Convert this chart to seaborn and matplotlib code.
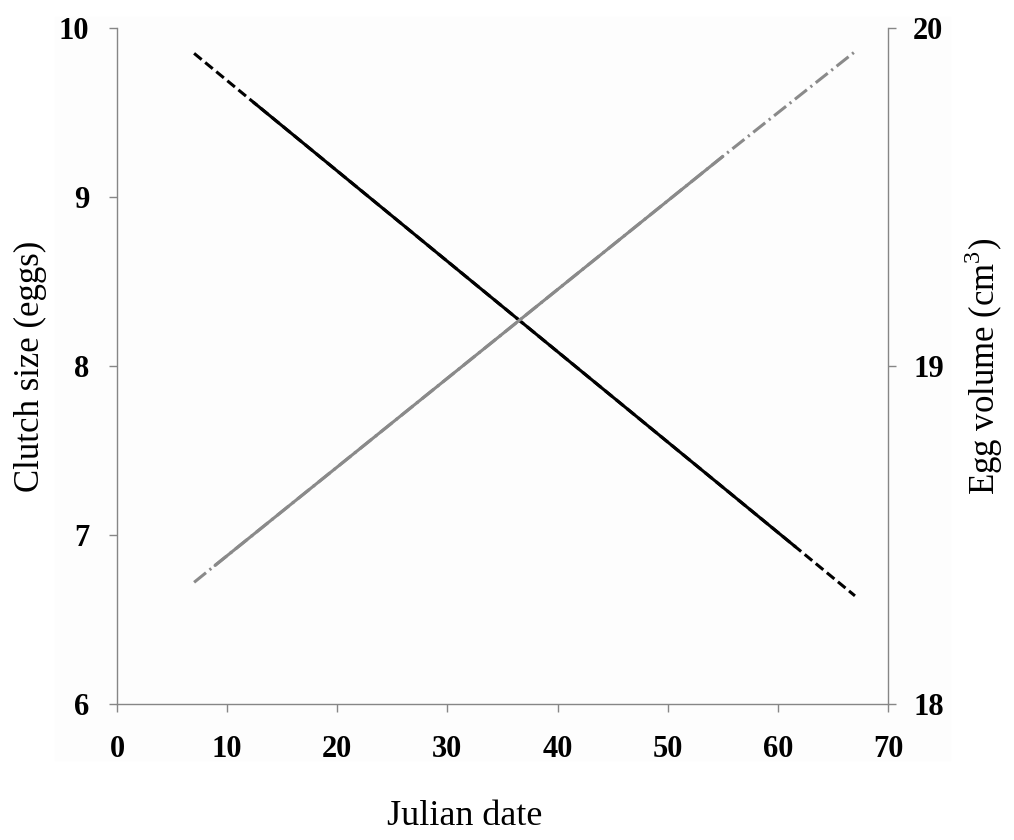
import matplotlib
matplotlib.use("Agg")
import matplotlib.pyplot as plt
from matplotlib.patches import Rectangle
import seaborn as sns

# fitted lines (x = Julian date)
clutch_date = [7, 12.4, 61.6, 67]
clutch_size = [9.85, 9.56, 6.93, 6.64]
volume_date = [7, 8.9, 55, 67]
egg_volume = [18.36, 18.41, 19.62, 19.93]

x_ticks = [0, 10, 20, 30, 40, 50, 60, 70]
left_ticks = [6, 7, 8, 9, 10]
right_ticks = [18, 19, 20]

sns.set_style("ticks")
plt.rcParams['font.family'] = ['Liberation Serif', 'DejaVu Serif']
plt.rcParams['mathtext.fontset'] = 'custom'
plt.rcParams['mathtext.rm'] = 'Liberation Serif'
plt.rcParams['text.color'] = 'black'
plt.rcParams['axes.labelcolor'] = 'black'
plt.rcParams['xtick.labelcolor'] = 'black'
plt.rcParams['ytick.labelcolor'] = 'black'

axis_grey = '#868686'

fig = plt.figure(figsize=(10.14, 8.4), dpi=100)
fig.patches.append(Rectangle((55/1014, 80/840), 895/1014, 743/840,
                             transform=fig.transFigure, color='#fdfdfd', zorder=-10))
ax = fig.add_axes([117/1014, 136/840, 771/1014, 676/840])
ax2 = ax.twinx()
ax.set_facecolor('none')
ax2.set_facecolor('none')

# clutch size: dashed extrapolation, solid over data range
sns.lineplot(x=clutch_date, y=clutch_size, ax=ax, color='black', linewidth=2.2,
             linestyle=(0, (3.2, 1.5)), estimator=None, sort=False)
sns.lineplot(x=clutch_date[1:3], y=clutch_size[1:3], ax=ax, color='black',
             linewidth=2.2, estimator=None, sort=False)

# egg volume: dash-dot extrapolation, solid over data range
sns.lineplot(x=volume_date, y=egg_volume, ax=ax2, color='#8a8a8a', linewidth=2.2,
             linestyle=(0, (5, 1.5, 0.7, 1.5)), estimator=None, sort=False)
sns.lineplot(x=volume_date[1:3], y=egg_volume[1:3], ax=ax2, color='#8a8a8a',
             linewidth=2.2, estimator=None, sort=False)

ax.set_xlim(0, 70)
ax.set_ylim(6, 10)
ax2.set_ylim(18, 20)
ax.set_xticks(x_ticks)
ax.set_yticks(left_ticks)
ax2.set_yticks(right_ticks)

for a in (ax, ax2):
    for s in a.spines.values():
        s.set_visible(False)
        s.set_color(axis_grey)
        s.set_linewidth(1.0)
ax.spines['left'].set_visible(True)
ax.spines['bottom'].set_visible(True)
ax2.spines['right'].set_visible(True)

ax.tick_params(axis='y', direction='out', length=6, width=1, color=axis_grey,
               pad=14, labelsize=22)
ax.tick_params(axis='x', direction='out', length=6, width=1, color=axis_grey,
               pad=16, labelsize=22)
ax2.tick_params(axis='y', direction='out', length=6, width=1, color=axis_grey,
                pad=12, labelsize=22)
for lab in ax.get_xticklabels() + ax.get_yticklabels() + ax2.get_yticklabels():
    lab.set_fontweight('bold')

ax.set_xlabel('Julian date', fontsize=26)
ax.xaxis.set_label_coords(0.451, -0.142)
ax.set_ylabel('Clutch size (eggs)', fontsize=25)
ax.yaxis.set_label_coords(-0.091, 0.5)
ax2.set_ylabel('Egg volume (cm$^3$)', fontsize=25)
ax2.yaxis.set_label_coords(1.096, 0.5)

fig.savefig('out.png', dpi=100)
